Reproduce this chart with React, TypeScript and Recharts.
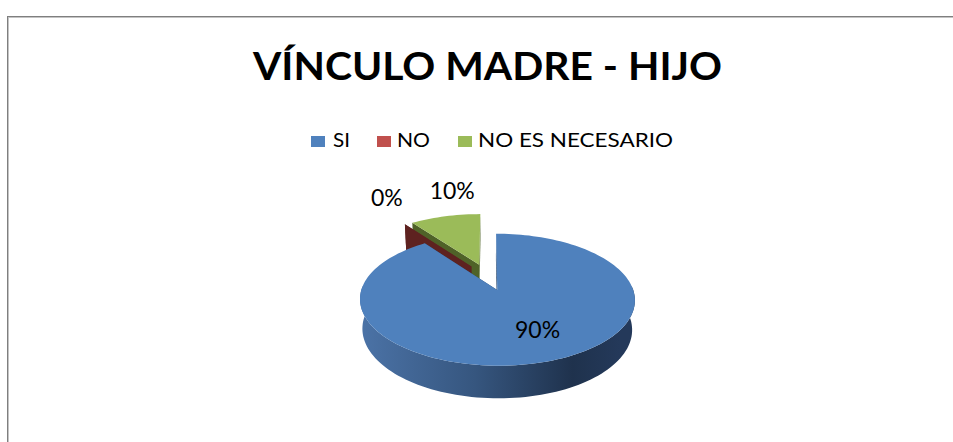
import { Pie, PieChart } from "recharts";

// Values (Excel 3D exploded pie).
const categories = ["SI", "NO", "NO ES NECESARIO"];
const values = [90, 0, 10];
const title = "VÍNCULO MADRE - HIJO";

const TOP: Record<string, string> = {
  SI: "#4F81BD",
  NO: "#C0504D",
  "NO ES NECESARIO": "#9BBB59",
};
const WALL: Record<string, string> = {
  SI: "#2c4a70",
  NO: "#5e2220",
  "NO ES NECESARIO": "#4f6228",
};
// every slice is pulled out by the same share of the radius (Excel "explosion")
const EXPLODE = 0.22;
// where Excel nudged the outside labels, in px from the rim
const LABEL_NUDGE: Record<string, [number, number]> = {
  NO: [-18, -26],
  "NO ES NECESARIO": [7, -25],
};

const FONT = "Lato, 'Open Sans', sans-serif";
const W = 953;
const H = 442;
const DEPTH = 33;
const SIN_T = 0.461;
const COS_T = 0.887;
const CAM = 6.3;

// back slices first so the big front slice paints over them
const pieData = categories
  .map((name, i) => ({ name, value: values[i] }))
  .reverse();

type Pt = [number, number];

function project(cx: number, cy: number, r: number, x: number, z: number, h: number): Pt {
  const yp = z * SIN_T + h * COS_T;
  const zp = z * COS_T - h * SIN_T;
  const d = CAM * r;
  const s = d / (d + zp);
  return [cx + x * s, cy - yp * s];
}

const rad = (deg: number) => (deg * Math.PI) / 180;
const fmt = (p: Pt) => `${p[0].toFixed(2)},${p[1].toFixed(2)}`;

function slicePoint(props: any, rr: number, deg: number, h: number): Pt {
  const { cx, cy, outerRadius: r, midAngle } = props;
  const e = EXPLODE * r;
  const ox = e * Math.cos(rad(midAngle));
  const oz = e * Math.sin(rad(midAngle));
  return project(cx, cy, r, ox + rr * Math.cos(rad(deg)), oz + rr * Math.sin(rad(deg)), h);
}

function Slice3D(props: any) {
  const { outerRadius: r, startAngle, endAngle } = props;
  const name = props.payload?.name ?? props.name;
  const pt = (rr: number, deg: number, h: number) => slicePoint(props, rr, deg, h);
  const n = Math.max(2, Math.ceil(Math.abs(endAngle - startAngle) / 2));
  const angles = Array.from({ length: n + 1 }, (_, i) => startAngle + ((endAngle - startAngle) * i) / n);

  const apexT = pt(0, 0, 0);
  const apexB = pt(0, 0, -DEPTH);
  const radial = (deg: number) =>
    "M" + [apexT, pt(r, deg, 0), pt(r, deg, -DEPTH), apexB].map(fmt).join("L") + "Z";

  // outer wall, only the part that faces the viewer
  const segs: number[][] = [];
  let cur: number[] = [];
  for (const a of angles) {
    if (Math.sin(rad(a)) <= 0.1) cur.push(a);
    else {
      if (cur.length > 1) segs.push(cur);
      cur = [];
    }
  }
  if (cur.length > 1) segs.push(cur);

  const top =
    endAngle !== startAngle
      ? "M" + [apexT, ...angles.map((a) => pt(r, a, 0))].map(fmt).join("L") + "Z"
      : null;
  const gid = `wall-${name.replace(/\s/g, "")}`;
  const wallFill = name === "SI" ? `url(#${gid})` : WALL[name];

  return (
    <g>
      <defs>
        <linearGradient id={gid} gradientUnits="userSpaceOnUse" x1={props.cx - r} x2={props.cx + r} y1={0} y2={0}>
          <stop offset="0" stopColor="#4c74a8" />
          <stop offset="0.45" stopColor="#36567f" />
          <stop offset="0.82" stopColor="#1f324d" />
          <stop offset="1" stopColor="#24395a" />
        </linearGradient>
      </defs>
      <path d={radial(startAngle)} fill={WALL[name]} />
      <path d={radial(endAngle)} fill={WALL[name]} />
      {segs.map((s, i) => {
        const up = s.map((a) => pt(r, a, 0));
        const down = s.map((a) => pt(r, a, -DEPTH)).reverse();
        return <path key={i} d={"M" + [...up, ...down].map(fmt).join("L") + "Z"} fill={wallFill} />;
      })}
      {top && <path d={top} fill={TOP[name]} />}
    </g>
  );
}

function renderLabel(props: any) {
  const { outerRadius: r, midAngle, percent } = props;
  const name = props.payload?.name ?? props.name;
  let x: number;
  let y: number;
  if (name === "SI") {
    const p = slicePoint(props, r * 0.6, midAngle, 0);
    x = p[0] + 12;
    y = p[1];
  } else {
    const p = slicePoint(props, r, midAngle, 0);
    const [dx, dy] = LABEL_NUDGE[name] ?? [0, -25];
    x = p[0] + dx;
    y = p[1] + dy;
  }
  return (
    <text
      key={name}
      x={x}
      y={y + 8}
      textAnchor="middle"
      fontFamily={FONT}
      fontSize={23}
      fill="#000"
    >
      {`${Math.round(percent * 100)}%`}
    </text>
  );
}

const legendItems = [
  { sq: 311, tx: 333, tw: 17 },
  { sq: 377, tx: 397, tw: 33 },
  { sq: 458, tx: 478, tw: 195 },
];

export default function App() {
  return (
    <div style={{ position: "absolute", left: 0, top: 0, width: W, height: H, background: "#fff", overflow: "hidden" }}>
      <svg width={W} height={H} style={{ position: "absolute", left: 0, top: 0 }}>
        <line x1={7} y1={16.5} x2={W} y2={16.5} stroke="#7f7f7f" />
        <line x1={8} y1={17.5} x2={W} y2={17.5} stroke="#c4c4c4" />
        <line x1={7.5} y1={16} x2={7.5} y2={H} stroke="#7f7f7f" />
        <line x1={8.5} y1={17} x2={8.5} y2={H} stroke="#c4c4c4" />
        <text
          x={253}
          y={80}
          fontFamily={FONT}
          fontWeight="bold"
          fontSize={39}
          textLength={469}
          lengthAdjust="spacingAndGlyphs"
          fill="#000"
        >
          {title}
        </text>
        {categories.map((c, i) => (
          <g key={c}>
            <rect x={legendItems[i].sq} y={136} width={14} height={11} fill={TOP[c]} />
            <text
              x={legendItems[i].tx}
              y={147}
              fontFamily={FONT}
              fontSize={20}
              textLength={legendItems[i].tw}
              lengthAdjust="spacingAndGlyphs"
              fill="#000"
            >
              {c}
            </text>
          </g>
        ))}
      </svg>
      <div style={{ position: "absolute", left: 0, top: 0 }}>
        <PieChart width={W} height={H} margin={{ top: 0, right: 0, bottom: 0, left: 0 }}>
          <Pie
            data={pieData}
            dataKey="value"
            nameKey="name"
            cx={488}
            cy={277}
            outerRadius={132}
            startAngle={90}
            endAngle={450}
            stroke="none"
            shape={Slice3D}
            label={renderLabel}
            labelLine={false}
            isAnimationActive={false}
          />
        </PieChart>
      </div>
    </div>
  );
}
